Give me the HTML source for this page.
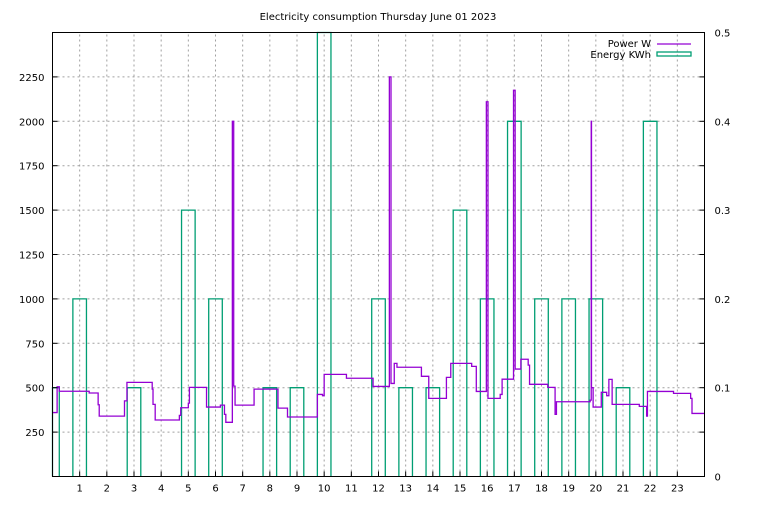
<!DOCTYPE html>
<html><head><meta charset="utf-8"><style>
body{margin:0;background:#fff}
svg text{font-family:"DejaVu Sans","Liberation Sans",sans-serif;font-size:10px;fill:#000}
</style></head><body>
<svg id="chart" width="768" height="500" viewBox="0 0 768 500">
<text x="378" y="20" text-anchor="middle">Electricity consumption Thursday June 01 2023</text>
<g id="grid"></g>
<g id="energy"></g>
<g id="power"></g>
<g id="axes"></g>
<g>
<text x="651" y="47" text-anchor="end">Power W</text>
<line x1="657" y1="44" x2="691" y2="44" stroke="#9400d3" stroke-width="1.3"/>
<text x="651" y="58" text-anchor="end">Energy KWh</text>
<rect x="657" y="52" width="34" height="4" fill="none" stroke="#009e73" stroke-width="1.3"/>
</g>
</svg>
<script>
const hourTicks=[1,2,3,4,5,6,7,8,9,10,11,12,13,14,15,16,17,18,19,20,21,22,23];
const wattTicks=[250,500,750,1000,1250,1500,1750,2000,2250];
const kwhTicks=[0,0.1,0.2,0.3,0.4,0.5];
const energyHours=[0,1,2,3,4,5,6,7,8,9,10,11,12,13,14,15,16,17,18,19,20,21,22,23];
const energyValues=[0.1,0.2,0,0.1,0,0.3,0.2,0,0.1,0.1,0.5,0,0.2,0.1,0.1,0.3,0.2,0.4,0.2,0.2,0.2,0.1,0.4,0];
const powerTimes=[0,0.17,0.25,1.35,1.68,1.72,2.65,2.74,3.67,3.7,3.78,4.67,4.72,5.0,5.04,5.67,6.18,6.33,6.38,6.62,6.67,6.72,7.42,8.3,8.65,9.75,9.94,10.0,10.82,11.8,12.4,12.46,12.58,12.68,13.58,13.85,14.5,14.66,15.43,15.6,15.97,16.03,16.48,16.55,16.97,17.03,17.24,17.51,17.56,18.23,18.5,18.55,19.79,19.83,19.84,19.9,20.2,20.4,20.48,20.6,21.6,21.87,21.9,22.86,23.49,23.54];
const powerValues=[360,505,480,470,404,340,426,530,492,406,318,344,387,413,502,391,402,350,305,2000,509,402,492,385,335,462,455,575,553,507,2250,524,637,615,564,440,558,637,620,479,2110,440,462,548,2175,605,660,627,519,502,350,421,430,2000,500,391,474,455,547,406,395,340,479,468,440,355,355];
const X0=52.5,X1=704.5,Y0=476.5,Y1=32.5;
const xs=h=>X0+(h/24)*(X1-X0);
const yW=w=>Y0-(w/2500)*(Y0-Y1);
const yK=k=>Y0-(k/0.5)*(Y0-Y1);
const NS='http://www.w3.org/2000/svg';
function mk(t,a,p){const e=document.createElementNS(NS,t);for(const k in a)e.setAttribute(k,a[k]);p.appendChild(e);return e;}
const grid=document.getElementById('grid'),axes=document.getElementById('axes'),en=document.getElementById('energy'),pw=document.getElementById('power');
hourTicks.forEach(h=>{
 const g=mk('line',{x1:xs(h),x2:xs(h),y1:Y0,y2:Y1,stroke:'#a0a0a0','stroke-dasharray':'2,3'},grid);
 
 
 const t=mk('line',{x1:xs(h),x2:xs(h),y1:Y0,y2:Y0-5,stroke:'#000'},axes);
 
 
 const l=mk('text',{x:xs(h),y:Y0+15,'text-anchor':'middle'},axes);l.textContent=h;
 
 
});
wattTicks.forEach(w=>{
 const g=mk('line',{x1:X0,x2:X1,y1:yW(w),y2:yW(w),stroke:'#a0a0a0','stroke-dasharray':'2,3'},grid);
 
 
 const t=mk('line',{x1:X0,x2:X0+5,y1:yW(w),y2:yW(w),stroke:'#000'},axes);
 
 
 const t2=mk('line',{x1:X1,x2:X1-5,y1:yW(w),y2:yW(w),stroke:'#000'},axes);
 
 
 const l=mk('text',{x:X0-8,y:yW(w)+4,'text-anchor':'end'},axes);l.textContent=w;
 
 
});
kwhTicks.forEach(k=>{
 const l=mk('text',{x:X1+10,y:yK(k)+4},axes);l.textContent=k;
 
 
});
const fr=mk('rect',{x:X0,y:Y1,width:X1-X0,height:Y0-Y1,fill:'none',stroke:'#000'},axes);


energyHours.forEach((h,i)=>{
 const v=energyValues[i];if(!v)return;
 const a=Math.max(X0,xs(h-0.25)),b=xs(h+0.25);
 const r=mk('path',{d:`M${a},${Y0}V${yK(v)}H${b}V${Y0}`,fill:'none',stroke:'#009e73','stroke-width':1.3},en);
 
 
});
let d='';
powerTimes.forEach((t,i)=>{
 const x=xs(t),y=yW(powerValues[i]);
 d+= i===0?`M${x},${y}`:`H${x}V${y}`;
});
d+=`H${xs(24)}`;
const p=mk('path',{d:d,fill:'none',stroke:'#9400d3','stroke-width':1.3},pw);


</script>
</body></html>
